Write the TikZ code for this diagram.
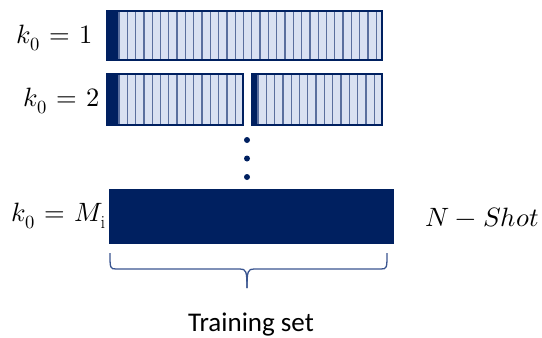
\documentclass[tikz,border=0pt]{standalone}
\usepackage{fontspec}
\usepackage{unicode-math}
\setmathfont{Latin Modern Math}
\setsansfont{Carlito}
\usetikzlibrary{calc}
\definecolor{navy}{HTML}{002060}
\definecolor{cellfill}{HTML}{D9E1F2}
\definecolor{stripe}{HTML}{5A6F9E}
\definecolor{bracecol}{HTML}{3A5590}
\thickmuskip=6.5mu plus 5mu
\medmuskip=4.5mu plus 2mu minus 4mu
\tikzset{
  bar/.style={draw=navy, line width=1.6pt, fill=cellfill, inner sep=0pt, outer sep=0pt, anchor=north west},
  stripeline/.style={draw=stripe, line width=1.3pt},
  solidbar/.style={draw=navy, line width=0.6pt, fill=navy, inner sep=0pt, outer sep=0pt, anchor=north west},
  lbl/.style={font=\fontsize{26.5}{30}\selectfont, inner sep=0pt, anchor=east},
  dotmark/.style={fill=navy}
}
\begin{document}
\begin{tikzpicture}[x=1pt,y=-1pt]
\useasboundingbox (0,0) rectangle (542,338);
% row 1
\node[bar, minimum width=275pt, minimum height=49pt] (r1) at (107,11) {};
\fill[navy] (r1.north west) rectangle ($(r1.south west)+(11,0)$);
\foreach \x in {119,127.3,...,380} \draw[stripeline] (\x,11) -- (\x,60);
\draw[navy, line width=1.6pt] (r1.north west) rectangle (r1.south east);
% row 2
\node[bar, minimum width=136pt, minimum height=51pt] (r2a) at (107,74) {};
\fill[navy] (r2a.north west) rectangle ($(r2a.south west)+(11,0)$);
\foreach \x in {119,127.3,...,241} \draw[stripeline] (\x,74) -- (\x,125);
\draw[navy, line width=1.6pt] (r2a.north west) rectangle (r2a.south east);
\node[bar, minimum width=130pt, minimum height=51pt] (r2b) at (252,74) {};
\fill[navy] (r2b.north west) rectangle ($(r2b.south west)+(6,0)$);
\foreach \x in {258,266.3,...,380} \draw[stripeline] (\x,74) -- (\x,125);
\draw[navy, line width=1.6pt] (r2b.north west) rectangle (r2b.south east);
% dots
\fill[dotmark] (247,140) circle (3);
\fill[dotmark] (247,158.5) circle (3);
\fill[dotmark] (247,177) circle (3);
% big bar
\node[solidbar, minimum width=284pt, minimum height=54pt] (big) at (109,189) {};
% labels
\node[lbl] (l1) at (93,38) {$k_0 = 1$};
\node[lbl] (l2) at (100,101) {$k_0 = 2$};
\node[lbl] (l3) at (106,216) {$k_0 = M_\mathrm{i}$};
\node[lbl, anchor=west] (ns) at (425,217) {$N - Shot$};
% brace
\draw[bracecol, line width=1.3pt] (110,253) .. controls (110,268) and (110,269) .. (116,269) -- (240,269) .. controls (246,269) and (247,271) .. (247,288);
\draw[bracecol, line width=1.3pt] (247,288) .. controls (247,271) and (248,269) .. (254,269) -- (381,269) .. controls (387,269) and (387,268) .. (387,253);
\node[font=\sffamily\fontsize{27}{30}\selectfont, anchor=base, inner sep=0pt] (ts) at (251,331) {Training set};
\end{tikzpicture}
\end{document}
